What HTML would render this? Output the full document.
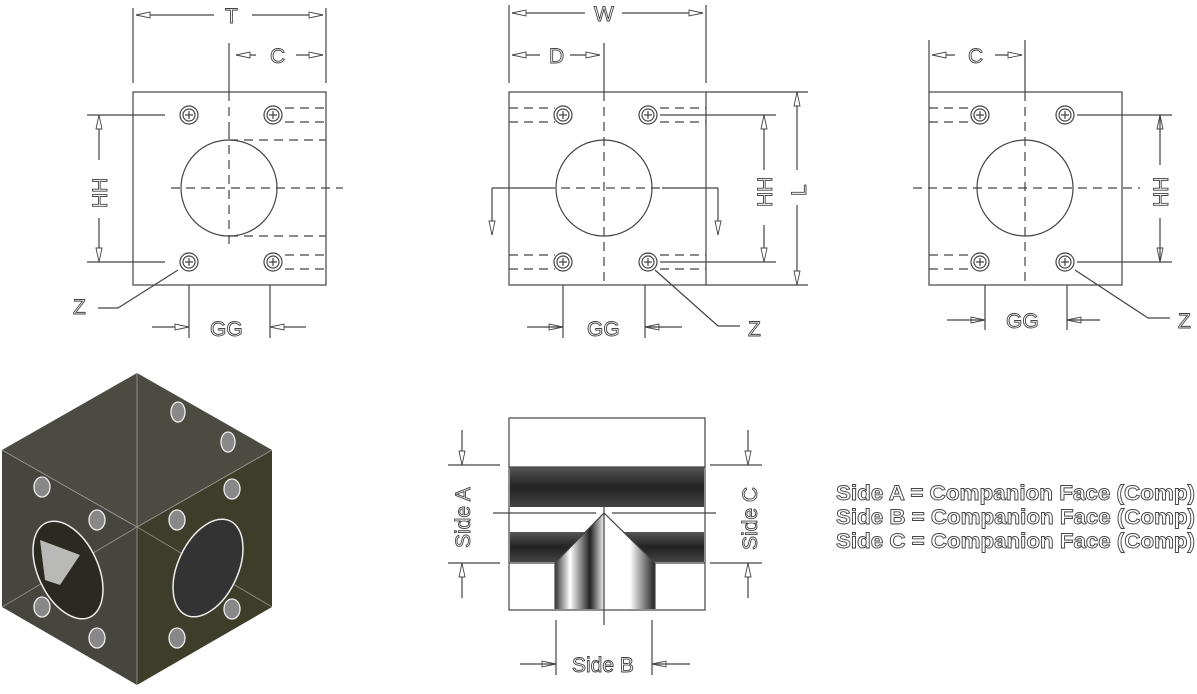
<!DOCTYPE html>
<html><head><meta charset="utf-8"><style>
html,body{margin:0;padding:0;background:#fff;width:1197px;height:694px;overflow:hidden}
svg{display:block}
.l{stroke:#444;stroke-width:1.2;fill:none}
.d{stroke:#444;stroke-width:1.2;fill:none;stroke-dasharray:9 6}
.t{font-family:"Liberation Sans",sans-serif;fill:#fff;stroke:#444;stroke-width:0.9;font-size:21px}
.a{fill:#fff;stroke:#444;stroke-width:0.9}
</style></head><body>
<svg width="1197" height="694" viewBox="0 0 1197 694">
<defs>
<g id="hole"><circle r="9" class="l"/><circle r="6" class="l"/><path d="M-4 0H4M0-4V4" class="l"/></g>
<linearGradient id="gv" x1="0" y1="0" x2="0" y2="1"><stop offset="0" stop-color="#555"/><stop offset="0.5" stop-color="#222"/><stop offset="1" stop-color="#444"/></linearGradient>
<linearGradient id="gh" x1="0" y1="0" x2="1" y2="0"><stop offset="0" stop-color="#333"/><stop offset="0.15" stop-color="#fff"/><stop offset="0.35" stop-color="#222"/><stop offset="0.5" stop-color="#fff"/><stop offset="0.75" stop-color="#fff"/><stop offset="1" stop-color="#222"/></linearGradient>
</defs>

<!-- Panel 1 -->
<rect x="133" y="92" width="193" height="193" class="l"/>
<path d="M133 8V83M326 8V83M229 43V92M136 15H214M252 15H323M236 55H256M296 55H323" class="l"/>
<path d="M136 15l14-3v6zM323 15l-14-3v6zM236 55l14-3v6zM323 55l-14-3v6z" class="a"/>
<text x="225" y="23" class="t">T</text><text x="270" y="63" class="t">C</text>
<circle cx="229" cy="188" r="48" class="l"/>
<path d="M171 188H343M229 130V248M229 92V130" class="d"/>
<path d="M229 140H326M229 236H326" class="d"/>
<use href="#hole" x="189" y="115"/><use href="#hole" x="273" y="115"/><use href="#hole" x="189" y="262"/><use href="#hole" x="273" y="262"/>
<path d="M285 108H326M285 122H326M285 255H326M285 269H326" class="d"/>
<path d="M87 115H165M87 262H165M99 115V160M99 218V262M189 285V338M270 285V338M152 327H189M270 327H306" class="l"/>
<path d="M99 115l-3 14h6zM99 262l-3-14h6zM189 327l-14-3v6zM270 327l14-3v6z" class="a"/>
<text x="107" y="208" class="t" transform="rotate(-90 107 208)">HH</text>
<text x="210" y="336" class="t">GG</text>
<text x="73" y="314" class="t">Z</text>
<path d="M98 308H118L178 270" class="l"/>

<!-- Panel 2 -->
<rect x="509" y="92" width="197" height="193" class="l"/>
<path d="M509 5V83M706 5V83M604 43V92M512 13H585M622 13H703M512 55H540M570 55H600" class="l"/>
<path d="M512 13l14-3v6zM703 13l-14-3v6zM512 55l14-3v6zM600 55l-14-3v6z" class="a"/>
<text x="594" y="21" class="t">W</text><text x="549" y="63" class="t">D</text>
<circle cx="604" cy="188" r="48" class="l"/>
<path d="M546 188H662M604 92V285" class="d"/>
<path d="M492 188H546M662 188H718M492 188V235M718 188V235" class="l"/>
<path d="M492 235l-3-14h6zM718 235l-3-14h6z" class="a"/>
<use href="#hole" x="563" y="115"/><use href="#hole" x="648" y="115"/><use href="#hole" x="563" y="262"/><use href="#hole" x="648" y="262"/>
<path d="M509 108H555M509 122H555M660 108H706M660 122H706M509 255H555M509 269H555M660 255H706M660 269H706" class="d"/>
<path d="M706 92H808M706 285H808M660 115H776M660 262H776M764 115V170M764 225V262M797 92V170M797 205V285" class="l"/>
<path d="M764 115l-3 14h6zM764 262l-3-14h6zM797 92l-3 14h6zM797 285l-3-14h6zM563 327l-14-3v6zM645 327l14-3v6z" class="a"/>
<text x="772" y="207" class="t" transform="rotate(-90 772 207)">HH</text>
<text x="806" y="196" class="t" transform="rotate(-90 806 196)">L</text>
<path d="M563 285V338M645 285V338M527 327H563M645 327H682" class="l"/>
<text x="587" y="336" class="t">GG</text>
<text x="748" y="336" class="t">Z</text>
<path d="M740 326H718L655 270" class="l"/>

<!-- Panel 3 -->
<rect x="929" y="92" width="193" height="193" class="l"/>
<path d="M929 40V92M1025 40V92M932 55H955M995 55H1022" class="l"/>
<path d="M932 55l14-3v6zM1022 55l-14-3v6zM1160 115l-3 14h6zM1160 262l-3-14h6zM985 320l-14-3v6zM1067 320l14-3v6z" class="a"/>
<text x="968" y="63" class="t">C</text>
<circle cx="1025" cy="188" r="48" class="l"/>
<path d="M913 188H1140M1025 92V285" class="d"/>
<use href="#hole" x="980" y="115"/><use href="#hole" x="1065" y="115"/><use href="#hole" x="980" y="262"/><use href="#hole" x="1065" y="262"/>
<path d="M929 108H972M929 122H972M929 255H972M929 269H972" class="d"/>
<path d="M1077 115H1172M1077 262H1172M1160 115V165M1160 218V262M985 285V330M1067 285V330M947 320H985M1067 320H1100" class="l"/>
<text x="1168" y="207" class="t" transform="rotate(-90 1168 207)">HH</text>
<text x="1006" y="328" class="t">GG</text>
<text x="1178" y="328" class="t">Z</text>
<path d="M1170 318H1148L1075 270" class="l"/>

<!-- Cube -->
<polygon points="137,373 272,450 137,527 2,450" fill="#4c4b42"/>
<polygon points="2,450 137,527 137,685 2,607" fill="#47463e"/>
<polygon points="137,527 272,450 272,607 137,685" fill="#3e3d2a"/>
<path d="M137 373V685M2 450L137 527L272 450M2 607L137 527M272 607L137 527" stroke="#bbb" stroke-width="1" fill="none" opacity="0.6"/>
<ellipse cx="68" cy="570" rx="30" ry="52" transform="rotate(-25 68 570)" fill="#2a2a22" stroke="#eee" stroke-width="1.5"/>
<path d="M40 540L80 555L60 585L45 580Z" fill="#ddd" opacity="0.8"/>
<ellipse cx="208" cy="568" rx="30" ry="52" transform="rotate(25 208 568)" fill="#333" stroke="#eee" stroke-width="1.5"/>
<g fill="#888" stroke="#eee" stroke-width="1.3">
<ellipse cx="42" cy="487" rx="8" ry="10"/><ellipse cx="97" cy="520" rx="8" ry="10"/><ellipse cx="42" cy="607" rx="8" ry="10"/><ellipse cx="97" cy="638" rx="8" ry="10"/>
<ellipse cx="232" cy="489" rx="8" ry="10"/><ellipse cx="177" cy="520" rx="8" ry="10"/><ellipse cx="232" cy="609" rx="8" ry="10"/><ellipse cx="177" cy="638" rx="8" ry="10"/>
<ellipse cx="178" cy="412" rx="7" ry="10"/><ellipse cx="228" cy="442" rx="7" ry="10"/>
</g>

<!-- Section view -->
<rect x="509" y="418" width="196" height="192" class="l"/>
<rect x="510" y="467" width="194" height="40" fill="url(#gv)"/>
<rect x="510" y="532" width="194" height="30" fill="url(#gv)"/>
<rect x="510" y="563" width="45" height="46" fill="#fff"/>
<rect x="655" y="563" width="49" height="46" fill="#fff"/>
<polygon points="555,563 604,513 655,563 655,609 555,609" fill="url(#gh)"/>
<path d="M555 563L604 513L655 563M555 563V609M655 563V609M509 563H555M655 563H705M509 467H705" class="l"/>
<path d="M493 513H596M612 513H716M604 505V625" class="l"/>
<path d="M448 465H500M448 563H500M462 430V465M462 563V598M710 465H762M710 563H762M748 430V465M748 563V598" class="l"/>
<path d="M462 465l-3-14h6zM462 563l-3 14h6zM748 465l-3-14h6zM748 563l-3 14h6zM556 664l-14-3v6zM652 664l14-3v6z" class="a"/>
<text x="470" y="548" class="t" transform="rotate(-90 470 548)">Side A</text>
<text x="757" y="550" class="t" transform="rotate(-90 757 550)">Side C</text>
<path d="M556 620V675M652 620V675M520 664H556M652 664H690" class="l"/>
<text x="572" y="672" class="t">Side B</text>

<text x="836" y="500" class="t" style="font-size:21px;font-weight:bold" textLength="359" lengthAdjust="spacingAndGlyphs">Side A = Companion Face (Comp)</text>
<text x="836" y="524" class="t" style="font-size:21px;font-weight:bold" textLength="359" lengthAdjust="spacingAndGlyphs">Side B = Companion Face (Comp)</text>
<text x="836" y="548" class="t" style="font-size:21px;font-weight:bold" textLength="359" lengthAdjust="spacingAndGlyphs">Side C = Companion Face (Comp)</text>
</svg>
</body></html>
